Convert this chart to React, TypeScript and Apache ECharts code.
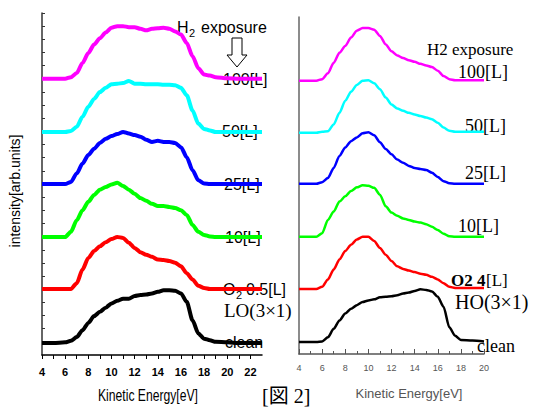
import React, { useEffect, useRef } from "react";
import * as echarts from "echarts";

// Energies (eV) sampled for each panel
const E_LEFT = [4, 5, 6, 6.5, 7, 7.5, 8, 8.5, 9, 9.5, 10, 10.5, 11, 11.5, 12, 12.5, 13, 13.5, 14, 14.5, 15, 15.5, 16, 16.5, 17, 17.5, 18, 18.5, 19, 20, 21, 22, 23];
const E_RIGHT = [4, 5, 5.5, 6, 6.5, 7, 7.5, 8, 8.5, 9, 9.5, 10, 10.5, 11, 11.5, 12, 12.5, 13, 13.5, 14, 14.5, 15, 15.5, 16, 16.5, 17, 17.5, 18, 19, 20];

// Left panel (LO 3x1) relative intensities
const L_100 = [0, 0, 0, 0.03, 0.11, 0.3, 0.49, 0.65, 0.77, 0.88, 0.97, 1.0, 1.0, 0.98, 0.98, 0.95, 0.92, 0.95, 0.96, 0.97, 0.95, 0.9, 0.84, 0.68, 0.43, 0.2, 0.08, 0.06, 0.03, 0.01, 0, 0, 0];
const L_50 = [0, 0, 0, 0.02, 0.1, 0.29, 0.48, 0.63, 0.76, 0.84, 0.91, 0.92, 0.93, 0.97, 0.92, 0.92, 0.91, 0.91, 0.91, 0.9, 0.9, 0.89, 0.84, 0.7, 0.41, 0.16, 0.06, 0.03, 0, 0, 0, 0, 0];
const L_25 = [0, 0, 0, 0.04, 0.2, 0.39, 0.55, 0.67, 0.78, 0.86, 0.91, 0.95, 0.99, 0.96, 0.93, 0.9, 0.84, 0.8, 0.82, 0.8, 0.8, 0.78, 0.7, 0.51, 0.26, 0.07, 0.01, 0, 0, 0, 0, 0, 0];
const L_10 = [0, 0, 0, 0.1, 0.32, 0.51, 0.67, 0.8, 0.9, 0.95, 1.0, 1.03, 0.97, 0.9, 0.82, 0.74, 0.69, 0.63, 0.59, 0.59, 0.57, 0.55, 0.51, 0.42, 0.23, 0.1, 0.04, 0.01, 0, 0, 0, 0, 0];
const L_O2 = [0, 0, 0, 0, 0.11, 0.37, 0.59, 0.72, 0.81, 0.89, 0.95, 0.99, 0.97, 0.88, 0.78, 0.7, 0.65, 0.61, 0.56, 0.55, 0.53, 0.5, 0.43, 0.3, 0.18, 0.06, 0.02, 0, 0, 0, 0, 0, 0];
const L_CLEAN = [0, 0, 0.01, 0.04, 0.11, 0.24, 0.38, 0.51, 0.59, 0.67, 0.75, 0.8, 0.84, 0.84, 0.89, 0.91, 0.92, 0.94, 0.97, 1.0, 1.0, 0.99, 0.94, 0.78, 0.43, 0.18, 0.08, 0.05, 0.02, 0.01, 0, 0, 0];

// Right panel (HO 3x1) relative intensities
const R_100 = [0, 0, 0, 0.03, 0.14, 0.34, 0.53, 0.66, 0.82, 0.95, 1.0, 1.0, 0.97, 0.85, 0.69, 0.56, 0.48, 0.43, 0.39, 0.36, 0.32, 0.29, 0.26, 0.19, 0.09, 0.03, 0.01, 0.01, 0.01, 0.01];
const R_50 = [0, 0, 0, 0.02, 0.03, 0.16, 0.38, 0.61, 0.78, 0.91, 0.99, 1.0, 0.94, 0.83, 0.67, 0.54, 0.46, 0.42, 0.38, 0.35, 0.32, 0.29, 0.26, 0.19, 0.1, 0.04, 0.02, 0.02, 0.02, 0.02];
const R_25 = [0, 0, 0, 0.03, 0.11, 0.3, 0.53, 0.69, 0.81, 0.88, 0.96, 0.98, 0.92, 0.79, 0.66, 0.56, 0.46, 0.4, 0.34, 0.3, 0.28, 0.26, 0.21, 0.13, 0.05, 0.01, 0, 0, 0, 0];
const R_10 = [0, 0, 0, 0.07, 0.32, 0.48, 0.67, 0.77, 0.87, 0.94, 0.98, 0.97, 0.93, 0.8, 0.58, 0.46, 0.4, 0.35, 0.32, 0.29, 0.27, 0.24, 0.19, 0.13, 0.06, 0.01, 0, 0, 0, 0];
const R_O2 = [0, 0, 0, 0.04, 0.18, 0.37, 0.56, 0.72, 0.84, 0.94, 0.99, 0.99, 0.91, 0.78, 0.65, 0.53, 0.43, 0.38, 0.35, 0.32, 0.29, 0.27, 0.23, 0.18, 0.11, 0.04, 0.02, 0.02, 0.02, 0.02];
const R_CLEAN = [0, 0, 0, 0.01, 0.09, 0.25, 0.41, 0.54, 0.63, 0.7, 0.76, 0.79, 0.81, 0.85, 0.86, 0.87, 0.89, 0.92, 0.94, 0.97, 1.0, 0.99, 0.96, 0.86, 0.67, 0.28, 0.12, 0.04, 0.03, 0.01];

const LEFT_SERIES = [L_100, L_50, L_25, L_10, L_O2, L_CLEAN];
const RIGHT_SERIES = [R_100, R_50, R_25, R_10, R_O2, R_CLEAN];
const SERIES_NAMES = ["100[L]", "50[L]", "25[L]", "10[L]", "O2", "clean"];
const COLORS = ["#ff00ff", "#00ffff", "#0000ff", "#00ff00", "#ff0000", "#000000"];
const LEFT_OFFSETS = [21, 16.95, 13, 8.97, 5.02, 0.92];
const RIGHT_OFFSETS = [20.76, 16.8, 12.93, 8.9, 4.94, 0.91];
const AMPLITUDE = 4;

const SANS = '"Liberation Sans", Arial, sans-serif';
const SERIF = '"Liberation Serif", "Times New Roman", "Noto Sans CJK JP", serif';

export default function App() {
  const ref = useRef<HTMLDivElement>(null);
  useEffect(() => {
    document.body.style.margin = "0";
    const chart = echarts.init(ref.current!, undefined, { renderer: "svg" });
    const series: any[] = [];
    LEFT_SERIES.forEach((vals, i) => {
      series.push({
        name: "L " + SERIES_NAMES[i],
        type: "line",
        xAxisIndex: 0,
        yAxisIndex: 0,
        showSymbol: false,
        smooth: 0.25,
        smoothMonotone: "x",
        lineStyle: { color: COLORS[i], width: 4 },
        data: E_LEFT.map((e, k) => [e, LEFT_OFFSETS[i] + AMPLITUDE * vals[k]]),
      });
    });
    RIGHT_SERIES.forEach((vals, i) => {
      series.push({
        name: "R " + SERIES_NAMES[i],
        type: "line",
        xAxisIndex: 1,
        yAxisIndex: 1,
        showSymbol: false,
        smooth: 0.25,
        smoothMonotone: "x",
        lineStyle: { color: COLORS[i], width: 2.5 },
        data: E_RIGHT.map((e, k) => [e, RIGHT_OFFSETS[i] + AMPLITUDE * vals[k]]),
      });
    });

    const t = (text: string, x: number, y: number, font: string, extra: any = {}) => ({
      type: "text",
      z: 0,
      style: { text, x, y, font, fill: "#000", align: "left", verticalAlign: "middle", ...extra },
    });

    const graphic: any[] = [
      // left panel labels
      t("H", 177, 27, `16px ${SANS}`),
      t("2", 189, 33, `11px ${SANS}`),
      t("exposure", 201, 27, `16px ${SANS}`),
      {
        type: "polygon",
        shape: { points: [[232, 38], [242, 38], [242, 55], [247, 55], [237, 67], [227, 55], [232, 55]] },
        style: { fill: "#fff", stroke: "#000", lineWidth: 1 },
      },
      t("100[L]", 223, 79, `16px ${SANS}`),
      t("50[L]", 222, 131, `16px ${SANS}`),
      t("25[L]", 224, 184, `16px ${SANS}`),
      t("10[L]", 225, 237, `16px ${SANS}`),
      t("O", 223, 289, `16px ${SANS}`),
      t("2", 236, 295, `11px ${SANS}`),
      t("0.5[L]", 246, 289, `16px ${SANS}`),
      t("LO(3×1)", 224, 310, `19px ${SERIF}`),
      t("clean", 225, 342, `16px ${SANS}`),
      // right panel labels
      t("H2 exposure", 427, 49, `17px ${SERIF}`),
      t("100[L]", 458, 72, `18px ${SERIF}`),
      t("50[L]", 465, 126, `18px ${SERIF}`),
      t("25[L]", 465, 173, `18px ${SERIF}`),
      t("10[L]", 458, 226, `18px ${SERIF}`),
      t("O2 4", 451, 280, `bold 17px ${SERIF}`),
      t("[L]", 486, 280, `17px ${SERIF}`),
      t("HO(3×1)", 455, 302, `20px ${SERIF}`),
      t("clean", 477, 346, `18px ${SERIF}`),
      // figure caption
      t("[図 2]", 262, 396, `20px ${SERIF}`),
      // axis names
      {
        type: "text",
        x: 148,
        y: 395,
        scaleX: 0.76,
        style: { text: "Kinetic Energy[eV]", x: 0, y: 0, font: `16px ${SANS}`, fill: "#000", align: "center", verticalAlign: "middle" },
      },
      {
        type: "text",
        x: 15,
        y: 191,
        rotation: Math.PI / 2,
        style: { text: "intensity[arb.units]", x: 0, y: 0, font: `14px ${SANS}`, fill: "#000", align: "center", verticalAlign: "middle" },
      },
      t("Kinetic Energy[eV]", 409, 393, `13px ${SANS}`, { fill: "#555", align: "center" }),
    ];

    chart.setOption({
      animation: false,
      backgroundColor: "#fff",
      grid: [
        { left: 42, top: 13, width: 220, height: 342 },
        { left: 299, top: 17, width: 185, height: 337 },
      ],
      xAxis: [
        {
          type: "value",
          gridIndex: 0,
          min: 4,
          max: 23,
          interval: 1,
          axisLine: { lineStyle: { color: "#000", width: 1.5 } },
          axisTick: { inside: false, length: 4, lineStyle: { color: "#000" } },
          axisLabel: {
            color: "#000",
            fontSize: 11,
            fontWeight: "bold",
            fontFamily: SANS,
            margin: 11,
            showMaxLabel: false,
            formatter: (v: number) => (v % 2 === 0 ? String(v) : ""),
          },
          splitLine: { show: false },
        },
        {
          type: "value",
          gridIndex: 1,
          min: 4,
          max: 20,
          interval: 2,
          axisLine: { lineStyle: { color: "#555", width: 1.5 } },
          axisTick: { inside: true, length: 5, lineStyle: { color: "#555" } },
          minorTick: { show: true, splitNumber: 2, length: 3, lineStyle: { color: "#555" } },
          axisLabel: { color: "#555", fontSize: 9, fontFamily: SANS, margin: 9 },
          splitLine: { show: false },
        },
      ],
      yAxis: [
        {
          type: "value",
          gridIndex: 0,
          min: 0,
          max: 26,
          interval: 1,
          axisLine: { show: true, lineStyle: { color: "#333", width: 1.5 } },
          axisTick: { show: true, inside: true, length: 3, lineStyle: { color: "#333" } },
          axisLabel: { show: false },
          splitLine: { show: false },
        },
        {
          type: "value",
          gridIndex: 1,
          min: 0,
          max: 25.6,
          axisLine: { show: true, lineStyle: { color: "#666", width: 1.5 } },
          axisTick: { show: false },
          axisLabel: { show: false },
          splitLine: { show: false },
        },
      ],
      graphic,
      series,
    });
    return () => chart.dispose();
  }, []);
  return <div ref={ref} style={{ width: 533, height: 408 }} />;
}
